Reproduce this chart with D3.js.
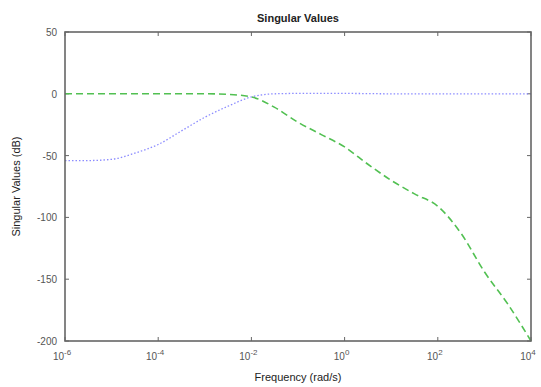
<!DOCTYPE html>
<html lang="en">
<head>
    <meta charset="utf-8" />
    <title>Singular Values</title>
    <script src="https://d3js.org/d3.v7.min.js"></script>
    <style>
        body { margin: 0; background: #fff; }
        text { font-family: "Liberation Sans", Arial, sans-serif; }
    </style>
</head>
<body>
    <script>

        // log10 of frequency (rad/s)
        var greenFreqExp = [-6, -5, -4, -3, -2.5, -2, -1.5, -1, -0.5, 0, 0.5, 1, 1.5, 2, 2.5, 3, 3.5, 4];
        var greenDb = [0, 0, 0, 0, -0.5, -2.5, -11, -23, -33, -43, -57, -70, -81, -91, -113, -144, -170, -200];

        var blueFreqExp = [-6, -5.5, -5, -4.5, -4, -3.5, -3, -2.5, -2, -1.5, -1, 0, 1, 2, 3, 4];
        var blueDb = [-54, -54, -53, -48, -41, -30, -19, -10, -2.5, 0, 0.3, 0.3, 0, 0, 0, 0];

        var xTickExp = [-6, -4, -2, 0, 2, 4];
        var yTicks = [50, 0, -50, -100, -150, -200];

        var w = 541;
        var h = 387;
        var margin = { left: 65, top: 32, right: 10, bottom: 46 };

        var svg = d3.select("body")
            .append("svg")
            .attr("width", w)
            .attr("height", h);

        var xScale = d3.scaleLog()
            .domain([1e-6, 1e4])
            .range([margin.left, w - margin.right]);

        var yScale = d3.scaleLinear()
            .domain([-200, 50])
            .range([h - margin.bottom, margin.top]);

        var axisColor = "#666";
        var x0 = xScale.range()[0], x1 = xScale.range()[1];
        var y0 = yScale.range()[0], y1 = yScale.range()[1];

        // ticks (inward, all four sides)
        var tl = 4;
        xTickExp.forEach(function (e) {
            var x = xScale(Math.pow(10, e));
            svg.append("line").attr("x1", x).attr("x2", x).attr("y1", y0).attr("y2", y0 - tl)
                .attr("stroke", axisColor);
            svg.append("line").attr("x1", x).attr("x2", x).attr("y1", y1).attr("y2", y1 + tl)
                .attr("stroke", axisColor);
        });
        yTicks.forEach(function (v) {
            var y = yScale(v);
            svg.append("line").attr("x1", x0).attr("x2", x0 + tl).attr("y1", y).attr("y2", y)
                .attr("stroke", axisColor);
            svg.append("line").attr("x1", x1).attr("x2", x1 - tl).attr("y1", y).attr("y2", y)
                .attr("stroke", axisColor);
        });

        // lines
        var line = d3.line()
            .x(function (d) { return xScale(Math.pow(10, d[0])); })
            .y(function (d) { return yScale(d[1]); })
            .curve(d3.curveMonotoneX);

        svg.append("path")
            .datum(d3.zip(blueFreqExp, blueDb))
            .attr("d", line)
            .attr("fill", "none")
            .attr("stroke", "#8c8cff")
            .attr("stroke-width", 1.3)
            .attr("stroke-dasharray", "1.5,2");

        svg.append("path")
            .datum(d3.zip(greenFreqExp, greenDb))
            .attr("d", line)
            .attr("fill", "none")
            .attr("stroke", "#52c052")
            .attr("stroke-width", 1.6)
            .attr("stroke-dasharray", "7,4");

        // box
        svg.append("rect")
            .attr("x", x0)
            .attr("y", y1)
            .attr("width", x1 - x0)
            .attr("height", y0 - y1)
            .attr("fill", "none")
            .attr("stroke", axisColor)
            .attr("stroke-width", 1.6);

        // y tick labels
        svg.selectAll("text.ylab")
            .data(yTicks)
            .enter()
            .append("text")
            .attr("class", "ylab")
            .attr("x", x0 - 8)
            .attr("y", function (d) { return yScale(d) + 4; })
            .attr("text-anchor", "end")
            .attr("font-size", "10px")
            .attr("fill", "#555")
            .text(function (d) { return d; });

        // x tick labels 10^e
        var xl = svg.selectAll("text.xlab")
            .data(xTickExp)
            .enter()
            .append("text")
            .attr("class", "xlab")
            .attr("x", function (d) { return xScale(Math.pow(10, d)) - 3; })
            .attr("y", y0 + 19)
            .attr("text-anchor", "middle")
            .attr("font-size", "10px")
            .attr("fill", "#555");
        xl.append("tspan").text("10");
        xl.append("tspan")
            .attr("dy", -5)
            .attr("font-size", "8px")
            .text(function (d) { return d; });

        // title and axis labels
        svg.append("text")
            .attr("x", (x0 + x1) / 2)
            .attr("y", 22)
            .attr("text-anchor", "middle")
            .attr("font-size", "11px")
            .attr("font-weight", "bold")
            .attr("fill", "#222")
            .text("Singular Values");

        svg.append("text")
            .attr("x", (x0 + x1) / 2)
            .attr("y", 381)
            .attr("text-anchor", "middle")
            .attr("font-size", "11px")
            .attr("fill", "#222")
            .text("Frequency (rad/s)");

        svg.append("text")
            .attr("transform", "translate(20," + ((y0 + y1) / 2) + ") rotate(-90)")
            .attr("text-anchor", "middle")
            .attr("font-size", "11px")
            .attr("fill", "#222")
            .text("Singular Values (dB)");

    </script>
</body>
</html>
